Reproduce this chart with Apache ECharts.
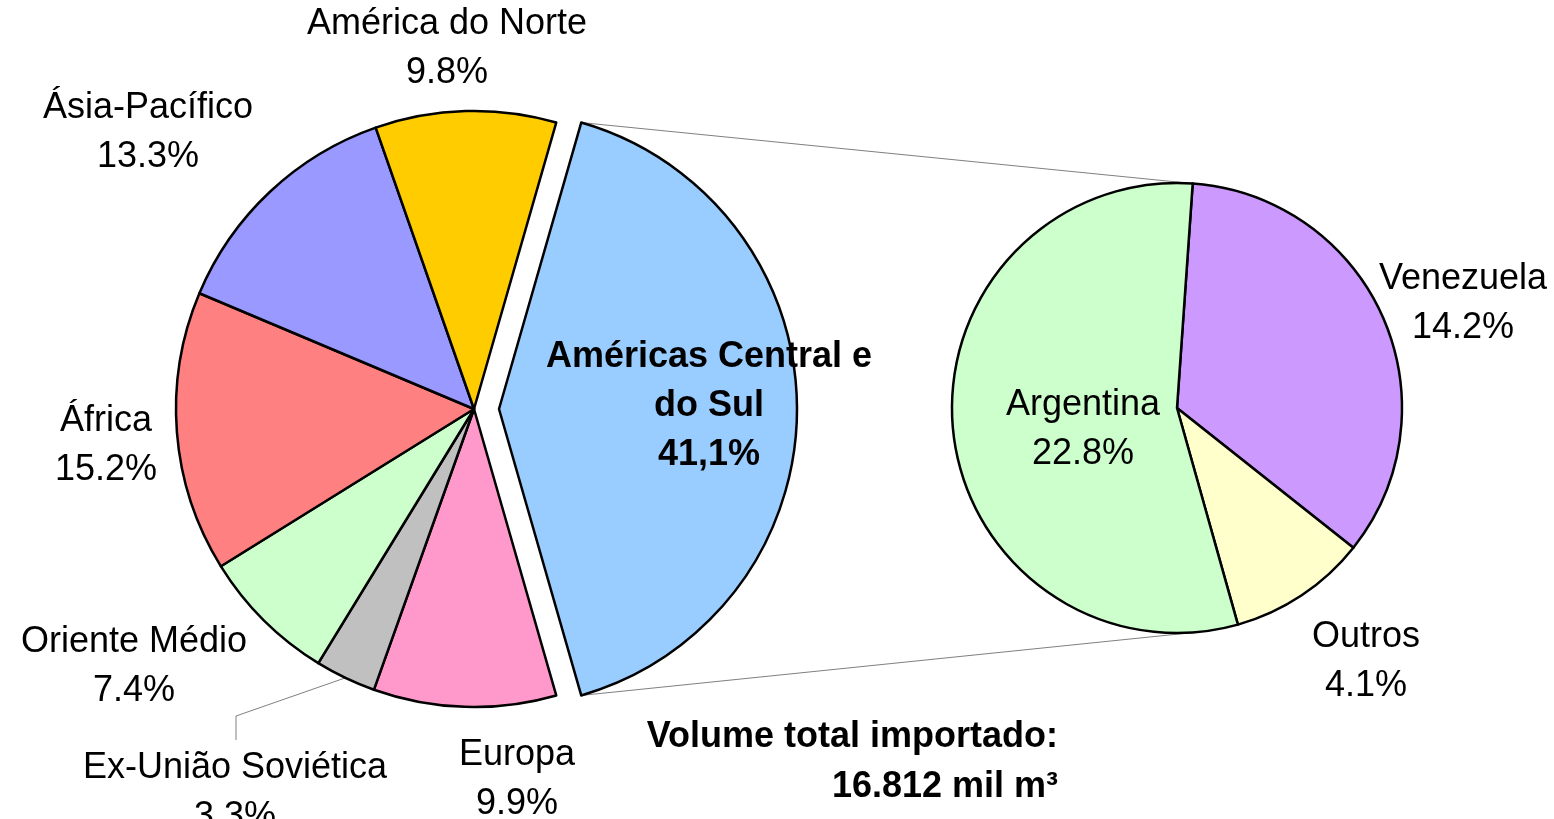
<!DOCTYPE html>
<html>
<head>
<meta charset="utf-8">
<script src="https://cdn.jsdelivr.net/npm/echarts@6/dist/echarts.min.js"></script>
<style>
html, body { margin: 0; padding: 0; background: #fff; }
#main { width: 1554px; height: 819px; }
</style>
</head>
<body>
<div id="main"></div>
<script>
// regiões de origem (pizza da esquerda)
var regionNames = ['Américas Central e\ndo Sul', 'Europa', 'Ex-União Soviética', 'Oriente Médio', 'África', 'Ásia-Pacífico', 'América do Norte'];
var regionValues = [41.1, 9.9, 3.3, 7.4, 15.2, 13.3, 9.8];
var regionColors = ['#99CCFF', '#FF99CC', '#C0C0C0', '#CCFFCC', '#FF8080', '#9999FF', '#FFCC00'];

// detalhe das Américas Central e do Sul (pizza da direita)
var countryNames = ['Venezuela', 'Outros', 'Argentina'];
var countryValues = [14.2, 4.1, 22.8];
var countryColors = ['#CC99FF', '#FFFFCC', '#CCFFCC'];

var totalText = 'Volume total importado:\n16.812 mil m³';

// layout
var c1 = [474, 409], r1 = 298, offset1 = 25;
var c2 = [1177, 408], r2 = 225, start2 = 86;
var leftLabelPos = [null, [517, 780], [235, 793], [134, 667], [106, 446], [148, 133], [447, 49]];
var mainLabelShift = [58, -3]; // deslocamento do rótulo interno da fatia destacada
var rightLabelPos = [[1463, 304], [1366, 662], [1083, 430]];
var font = 'Liberation Sans, Arial, sans-serif';

var total1 = regionValues.reduce(function (a, b) { return a + b; }, 0);
var start1 = regionValues[0] / total1 * 360 / 2;

function rad(a) { return a * Math.PI / 180; }
function midAngle(values, start, idx) {
    var t = values.reduce(function (a, b) { return a + b; }, 0);
    var acc = 0;
    for (var i = 0; i < idx; i++) acc += values[i];
    return start - (acc + values[idx] / 2) / t * 360;
}

// linhas de ligação entre a fatia destacada e a segunda pizza
var m0 = midAngle(regionValues, start1, 0);
var vx = c1[0] + offset1 * Math.cos(rad(m0)), vy = c1[1] - offset1 * Math.sin(rad(m0));
var a0 = start1, a1 = start1 - regionValues[0] / total1 * 360;
var connTop = [[vx + r1 * Math.cos(rad(a0)), vy - r1 * Math.sin(rad(a0))],
               [c2[0] + r2 * Math.cos(rad(start2)), c2[1] - r2 * Math.sin(rad(start2))]];
var connBot = [[vx + r1 * Math.cos(rad(a1)), vy - r1 * Math.sin(rad(a1))],
               [c2[0] + r2 * Math.cos(rad(-84)), c2[1] - r2 * Math.sin(rad(-84))]];

// linha guia da Ex-União Soviética
var mEx = midAngle(regionValues, start1, 2);
var exEdge = [c1[0] + r1 * Math.cos(rad(mEx)), c1[1] - r1 * Math.sin(rad(mEx))];

var leftData = regionNames.map(function (n, i) {
    var d = { name: n, value: regionValues[i], itemStyle: { color: regionColors[i] } };
    if (i === 0) {
        d.selected = true;
        d.label = { fontWeight: 'bold', position: 'inside' };
    }
    if (i === 2) {
        d.labelLine = { show: true };
    }
    return d;
});
var rightData = countryNames.map(function (n, i) {
    return { name: n, value: countryValues[i], itemStyle: { color: countryColors[i] } };
});

var labelFmt = function (p) {
    var v = p.value.toFixed(1);
    if (p.seriesIndex === 0 && p.dataIndex === 0) v = v.replace('.', ',');
    return p.name + '\n' + v + '%';
};

var chart = echarts.init(document.getElementById('main'));
var option = {
    backgroundColor: '#fff',
    animation: false,
    graphic: [
        { type: 'line', z: 1, shape: { x1: connTop[0][0], y1: connTop[0][1], x2: connTop[1][0], y2: connTop[1][1] },
          style: { stroke: '#808080', lineWidth: 1 } },
        { type: 'line', z: 1, shape: { x1: connBot[0][0], y1: connBot[0][1], x2: connBot[1][0], y2: connBot[1][1] },
          style: { stroke: '#808080', lineWidth: 1 } },
        { type: 'text', z: 10, x: 1058, y: 762,
          style: { text: totalText, font: 'bold 36px ' + font, fill: '#000',
                   align: 'right', verticalAlign: 'middle', lineHeight: 50 } }
    ],
    series: [{
        type: 'pie',
        center: c1,
        radius: r1,
        startAngle: start1,
        clockwise: true,
        selectedMode: 'single',
        selectedOffset: offset1,
        avoidLabelOverlap: false,
        emphasis: { disabled: true },
        itemStyle: { borderColor: '#000', borderWidth: 2.5 },
        label: { show: true, position: 'outside', formatter: labelFmt, color: '#000',
                 fontFamily: font, fontSize: 36, lineHeight: 49 },
        labelLine: { show: false, lineStyle: { color: '#808080', width: 1 } },
        labelLayout: function (p) {
            if (p.dataIndex === 0) {
                return { dx: mainLabelShift[0], dy: mainLabelShift[1] };
            }
            var pos = leftLabelPos[p.dataIndex];
            var res = { x: pos[0], y: pos[1], align: 'center', verticalAlign: 'middle' };
            if (p.dataIndex === 2) {
                res.labelLinePoints = [exEdge, [236, 716], [236, 740]];
            }
            return res;
        },
        data: leftData
    }, {
        type: 'pie',
        center: c2,
        radius: r2,
        startAngle: start2,
        clockwise: true,
        avoidLabelOverlap: false,
        emphasis: { disabled: true },
        itemStyle: { borderColor: '#000', borderWidth: 2.5 },
        label: { show: true, position: 'outside', formatter: labelFmt, color: '#000',
                 fontFamily: font, fontSize: 36, lineHeight: 49 },
        labelLine: { show: false },
        labelLayout: function (p) {
            var pos = rightLabelPos[p.dataIndex];
            return { x: pos[0], y: pos[1], align: 'center', verticalAlign: 'middle' };
        },
        data: rightData
    }]
};
chart.setOption(option);
</script>
</body>
</html>
